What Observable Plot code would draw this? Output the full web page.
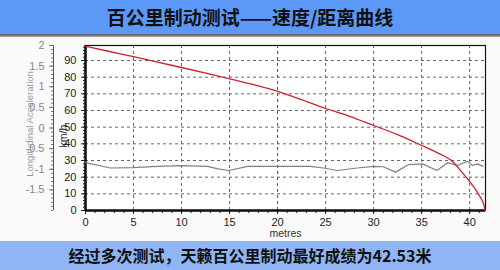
<!DOCTYPE html>
<html>
<head>
<meta charset="utf-8">
<script src="https://cdn.jsdelivr.net/npm/d3@7"></script>
<script src="https://cdn.jsdelivr.net/npm/@observablehq/plot@0.6"></script>
<style>
  html, body { margin: 0; padding: 0; background: #fafafa; }
  #wrap { width: 500px; height: 270px; overflow: hidden; position: relative; }
  #title { height: 34px; background: #5c98f7; color: #111; font: bold 19px "Noto Sans CJK SC", sans-serif; text-align: center; line-height: 34px; }
  #sep { height: 3px; background: linear-gradient(#555, #aaa); }
  #chart { height: 204px; background: #fafafa; }
  #caption { height: 29px; background: #8fb5f4; color: #111; font: bold 16px "Noto Sans CJK SC", sans-serif; text-align: center; line-height: 29px; }
  svg { display: block; }
</style>
</head>
<body>
<div id="wrap">
  <div id="title">百公里制动测试——速度/距离曲线</div>
  <div id="sep"></div>
  <div id="chart"></div>
  <div id="caption">经过多次测试，天籁百公里制动最好成绩为42.53米</div>
</div>
<script>
// Speed (km/h) vs distance (metres)
const speedDist = [0, 2.5, 5, 7.5, 10, 13.3, 15, 17.5, 20, 22.5, 25, 27.5, 30, 32.5, 35, 36.5, 38.3, 39.2, 40, 40.8, 41.2, 41.5, 41.6];
const speedKmh  = [98.6, 95.4, 92.3, 89, 85.8, 81.4, 79, 75.5, 71.5, 66.5, 61.2, 56.5, 51, 45.5, 39, 35, 29, 23, 17.4, 11, 7, 3, 0];

// Longitudinal acceleration vs distance
const accDist = [0, 2.6, 5.0, 7.5, 9.9, 12.7, 13.8, 14.9, 16.9, 20.0, 23.4, 24.8, 26.2, 28.3, 30.0, 31.0, 32.3, 33.6, 35.1, 36.6, 37.7, 38.7, 39.8, 40.3, 40.8, 41.4];
const accVals = [-0.84, -0.97, -0.96, -0.93, -0.91, -0.93, -0.99, -1.03, -0.93, -0.93, -0.93, -0.97, -1.03, -0.97, -0.93, -0.94, -1.07, -0.89, -0.87, -1.03, -0.84, -0.91, -0.81, -0.91, -0.87, -0.93];

const xTicks = [0, 5, 10, 15, 20, 25, 30, 35, 40];
const kmhTicks = [0, 10, 20, 30, 40, 50, 60, 70, 80, 90];
const accTicks = [-1.5, -1, -0.5, 0, 0.5, 1, 1.5, 2];
const accTickLabels = ["-1.5", "-1", "-0.5", "0", "0.5", "1", "1.5", "2"];

const yMax = 99;
const accToKmh = a => (a + 2) / 4 * yMax;

const speed = speedDist.map((d, i) => ({d, v: speedKmh[i]}));
const acc = accDist.map((d, i) => ({d, v: accToKmh(accVals[i])}));

const minorX = d3.range(0, 42, 1);
const minorKmh = d3.range(0, 99, 2);
const minorAcc = d3.range(-2, 2.001, 0.1).map(accToKmh);

const font = "Liberation Sans, Arial, sans-serif";

const plot = Plot.plot({
  width: 500,
  height: 204,
  marginTop: 8,
  marginBottom: 31,
  marginLeft: 85,
  marginRight: 15,
  style: {fontFamily: font, fontSize: "11px", background: "transparent", color: "#222"},
  x: {domain: [0, 41.65]},
  y: {domain: [0, yMax]},
  marks: [
    Plot.frame({fill: "white"}),
    Plot.gridX(xTicks.filter(t => t !== 0 && t !== 20), {stroke: "#666", strokeOpacity: 1, strokeDasharray: "3,3"}),
    Plot.gridX([20], {stroke: "#a02538", strokeOpacity: 1, strokeDasharray: "3,3"}),
    Plot.gridY(kmhTicks.filter(t => t !== 0), {stroke: "#666", strokeOpacity: 1, strokeDasharray: "3,3"}),
    // x axis
    Plot.axisX(minorX, {tickSize: 3, tickFormat: () => "", label: null}),
    Plot.axisX(xTicks, {tickSize: 4, tickPadding: 4, tickFormat: d => String(d), label: null, fontSize: 11, fill: "#222"}),
    Plot.text(["metres"], {frameAnchor: "bottom", lineAnchor: "top", dy: 19, fontSize: 10.5, fill: "#333"}),
    // km/h axis
    Plot.axisY(minorKmh, {tickSize: 2, tickFormat: () => "", label: null}),
    Plot.axisY(kmhTicks, {tickSize: 4, tickFormat: d => String(d), label: null, fontSize: 11, fill: "#222"}),
    Plot.text(["km/h"], {frameAnchor: "left", textAnchor: "middle", dx: -22, dy: 8, rotate: -90, fontSize: 10.5, fill: "#222"}),
    // acceleration axis (secondary, offset left)
    Plot.axisY(minorAcc, {tickSize: 2, tickFormat: () => "", label: null, dx: -32, stroke: "#777"}),
    Plot.axisY(accTicks.map(accToKmh), {tickSize: 4, tickFormat: (d, i) => accTickLabels[i], label: null, dx: -32, fill: "#888", stroke: "#777", fontSize: 11}),
    Plot.ruleX([0], {y1: 0, y2: yMax, dx: -32, stroke: "#555"}),
    Plot.text(["Longitudinal Acceleration"], {frameAnchor: "left", textAnchor: "middle", dx: -56, dy: -4, rotate: -90, fontSize: 9.5, fill: "#999"}),
    // frame
    Plot.frame({stroke: "#111", strokeWidth: 1.2}),
    Plot.ruleX([0], {stroke: "#111", strokeWidth: 2.5}),
    Plot.ruleY([0], {stroke: "#111", strokeWidth: 2.5}),
    // data
    Plot.line(acc, {x: "d", y: "v", stroke: "#808080", strokeWidth: 1.2}),
    Plot.line(speed, {x: "d", y: "v", stroke: "#cc2233", strokeWidth: 1.3, curve: "monotone-x"})
  ]
});
document.getElementById("chart").appendChild(plot);
</script>
</body>
</html>
